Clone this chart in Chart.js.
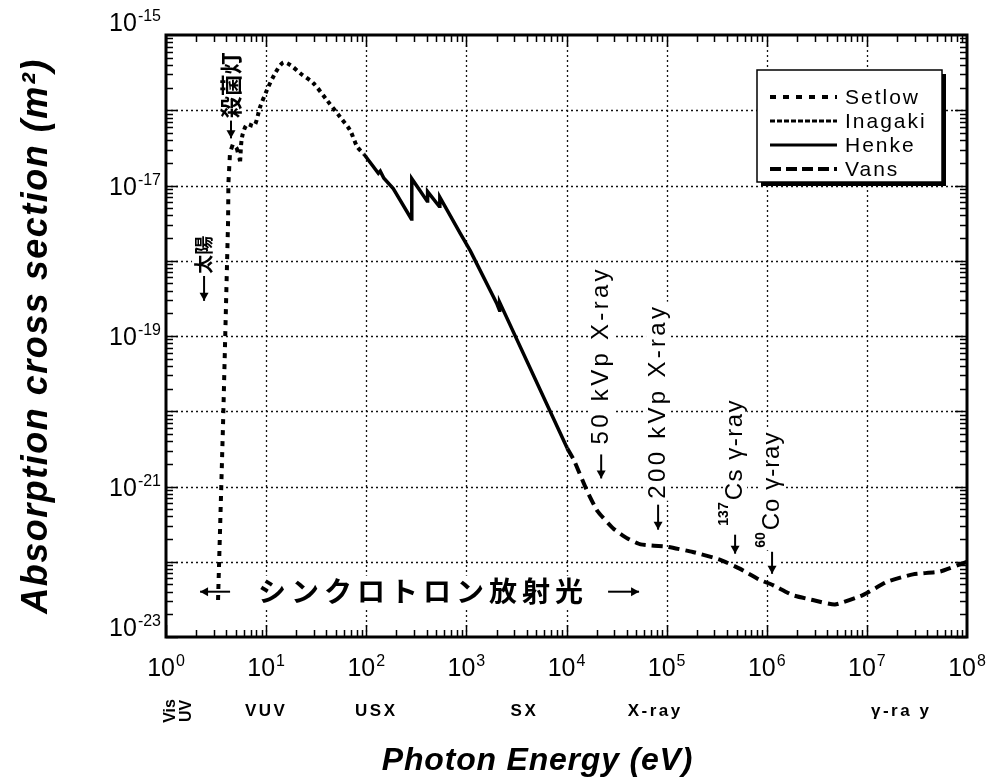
<!DOCTYPE html>
<html>
<head>
<meta charset="utf-8">
<script src="https://cdn.jsdelivr.net/npm/chart.js@4.4.1/dist/chart.umd.min.js"></script>
<style>
  html, body { margin: 0; padding: 0; background: #fff; }
  canvas { display: block; }
</style>
</head>
<body>
<canvas id="absChart" width="997" height="777"></canvas>
<script>
// photon energy (eV) vs absorption cross section (m^2)
const setlowEnergy = [3.31, 3.72, 4.17, 4.2, 4.36, 4.68, 5.1, 5.5];
const setlowSigma  = [3.1e-23, 7.4e-21, 3.4e-18, 1.07e-17, 2.75e-17, 3.6e-17, 3.1e-17, 2.1e-17];

const inagakiEnergy = [5.5, 5.75, 6.46, 7.6, 8.7, 10.2, 12.3, 14.8, 17.4, 21.9, 29.5, 40.7, 55, 69, 81, 95];
const inagakiSigma  = [2.1e-17, 4.4e-17, 6.5e-17, 6.2e-17, 1.1e-16, 1.86e-16, 3.1e-16, 4.3e-16, 4.0e-16,
                       3.1e-16, 2.3e-16, 1.35e-16, 8.1e-17, 5.4e-17, 3.3e-17, 2.6e-17];

const henkeEnergy = [95, 132, 138, 150, 186, 282, 285, 345, 405, 410, 535, 543, 871, 1096, 2000, 2140, 2150, 10200];
const henkeSigma  = [2.6e-17, 1.45e-17, 1.55e-17, 1.25e-17, 9.1e-18, 3.6e-18, 1.23e-17, 8.5e-18, 6.2e-18, 8.3e-18,
                     5.3e-18, 7.0e-18, 2.3e-18, 1.35e-18, 2.75e-19, 2.2e-19, 2.8e-19, 3.2e-21];

const vansEnergy = [10200, 11750, 16200, 20400, 29500, 40700, 55000, 102000, 182000, 339000, 537000, 851000,
                    1.15e6, 1.82e6, 2.88e6, 4.79e6, 9.1e6, 1.58e7, 2.88e7, 5.37e7, 1e8];
const vansSigma  = [3.2e-21, 2.3e-21, 8.5e-22, 4.7e-22, 2.75e-22, 2.04e-22, 1.7e-22, 1.58e-22, 1.35e-22, 1.07e-22,
                    8.1e-23, 5.75e-23, 4.9e-23, 3.6e-23, 3.1e-23, 2.7e-23, 3.6e-23, 5.4e-23, 6.8e-23, 7.4e-23, 1.0e-22];

const xTickExp = [0, 1, 2, 3, 4, 5, 6, 7, 8];
const yGridExp = [-23, -22, -21, -20, -19, -18, -17, -16, -15];
const yLabelExp = [-15, -17, -19, -21, -23];

const SANS = '"Liberation Sans", Arial, sans-serif';
const CJK = '"Noto Sans CJK JP", sans-serif';

const pts = (xs, ys) => xs.map((x, i) => ({ x: x, y: ys[i] }));

const series = [
  { label: 'Setlow',  data: pts(setlowEnergy, setlowSigma),   dash: [5, 6],  width: 4,   tension: 0 },
  { label: 'Inagaki', data: pts(inagakiEnergy, inagakiSigma), dash: [4, 4],  width: 4,   tension: 0.3 },
  { label: 'Henke',   data: pts(henkeEnergy, henkeSigma),     dash: [],      width: 3.5, tension: 0 },
  { label: 'Vans',    data: pts(vansEnergy, vansSigma),       dash: [11, 6], width: 4,   tension: 0.15 }
];

// arrow along +x of the current frame, tip at x0 (dir 'start') or at x0+len (dir 'end')
function arrow(ctx, x0, len, dir) {
  const tip = dir === 'end' ? x0 + len : x0;
  const s = dir === 'end' ? -1 : 1;
  ctx.lineWidth = 2;
  ctx.setLineDash([]);
  ctx.beginPath();
  ctx.moveTo(x0, 0); ctx.lineTo(x0 + len, 0); ctx.stroke();
  ctx.beginPath();
  ctx.moveTo(tip, 0); ctx.lineTo(tip + s * 8, -4.5); ctx.lineTo(tip + s * 8, 4.5); ctx.closePath(); ctx.fill();
}

function drawParts(ctx, x, y, angle, parts) {
  ctx.save();
  ctx.translate(x, y);
  ctx.rotate(angle);
  ctx.textAlign = 'left';
  ctx.textBaseline = 'middle';
  ctx.fillStyle = '#000';
  ctx.strokeStyle = '#000';
  let pos = 0;
  parts.forEach(p => {
    pos += p.gap || 0;
    if (p.arrow) {
      ctx.fillStyle = '#fff';
      ctx.fillRect(pos - 1, -6, p.arrow + 2, 12);
      ctx.fillStyle = '#000';
      arrow(ctx, pos, p.arrow, p.dir);
      pos += p.arrow;
      return;
    }
    ctx.font = p.font;
    ctx.letterSpacing = p.spacing || '0px';
    const w = ctx.measureText(p.text).width;
    const h = p.h || 20;
    ctx.fillStyle = '#fff';
    ctx.fillRect(pos - 2, (p.dy || 0) - h / 2 - 2, w + 4, h + 4);
    ctx.fillStyle = '#000';
    ctx.fillText(p.text, pos, p.dy || 0);
    ctx.letterSpacing = '0px';
    pos += w;
  });
  ctx.restore();
}

// text labels anchored on data coordinates (arrow tip)
const annotations = [
  { e: 2.40, s: 2.93e-19, parts: [{ arrow: 25 }, { gap: 2, text: '太陽', font: 'bold 19px ' + CJK }] },
  { e: 4.46, s: 4.23e-17, parts: [{ arrow: 18 }, { gap: 2, text: '殺菌灯', font: 'bold 22px ' + CJK, h: 22 }] },
  { e: 2.22e4, s: 1.28e-21, parts: [{ arrow: 24 }, { gap: 10, text: '50 kVp X-ray', font: '24px ' + SANS, spacing: '3.3px' }] },
  { e: 8.22e4, s: 2.67e-22, parts: [{ arrow: 25 }, { gap: 6, text: '200 kVp X-ray', font: '24px ' + SANS, spacing: '3.3px' }] },
  { e: 4.83e5, s: 1.28e-22, parts: [{ arrow: 19 }, { gap: 9, text: '137', font: 'bold 14px ' + SANS, dy: -11, h: 12 },
                                    { gap: 2, text: 'Cs γ-ray', font: '24px ' + SANS, spacing: '1.5px' }] },
  { e: 1.13e6, s: 6.92e-23, parts: [{ arrow: 22 }, { gap: 4, text: '60', font: 'bold 14px ' + SANS, dy: -11, h: 12 },
                                    { gap: 2, text: 'Co γ-ray', font: '24px ' + SANS, spacing: '1px' }] }
];

const regionLabels = [
  { e: 10, text: 'VUV' }, { e: 126, text: 'USX' }, { e: 3800, text: 'SX' },
  { e: 7.7e4, text: 'X-ray' }, { e: 2.2e7, text: 'γ-ra y' }
];

function drawPow(ctx, exp, x, y, align) {
  ctx.textAlign = 'left';
  ctx.textBaseline = 'alphabetic';
  ctx.font = '25px ' + SANS;
  const wb = ctx.measureText('10').width;
  ctx.font = '16px ' + SANS;
  const ws = ctx.measureText(String(exp)).width;
  const x0 = align === 'center' ? x - (wb + ws + 1) / 2 : x - wb - ws - 1;
  ctx.font = '25px ' + SANS;
  ctx.fillText('10', x0, y);
  ctx.font = '16px ' + SANS;
  ctx.fillText(String(exp), x0 + wb + 1, y - 10);
}

const framePlugin = {
  id: 'frame',
  beforeDatasetsDraw(chart) {
    const { ctx, chartArea: a, scales: { x, y } } = chart;
    ctx.save();
    // dotted grid at each decade
    ctx.strokeStyle = '#111';
    ctx.lineWidth = 1.3;
    ctx.setLineDash([2, 3]);
    xTickExp.forEach(e => {
      const px = Math.round(x.getPixelForValue(Math.pow(10, e))) + 0.5;
      if (px <= a.left + 2 || px >= a.right - 2) return;
      ctx.beginPath(); ctx.moveTo(px, a.top); ctx.lineTo(px, a.bottom); ctx.stroke();
    });
    yGridExp.forEach(e => {
      const py = Math.round(y.getPixelForValue(Math.pow(10, e))) + 0.5;
      if (py <= a.top + 2 || py >= a.bottom - 2) return;
      ctx.beginPath(); ctx.moveTo(a.left, py); ctx.lineTo(a.right, py); ctx.stroke();
    });
    ctx.setLineDash([]);

    // annotations
    annotations.forEach(an => {
      drawParts(ctx, x.getPixelForValue(an.e), y.getPixelForValue(an.s), -Math.PI / 2, an.parts);
    });
    // synchrotron radiation range
    drawParts(ctx, x.getPixelForValue(2.19), y.getPixelForValue(4.0e-23), 0, [
      { arrow: 30, dir: 'start' },
      { gap: 28, text: 'シンクロトロン放射光', font: 'bold 28px ' + CJK, spacing: '5px', h: 28 },
      { gap: 20, arrow: 31, dir: 'end' }
    ]);
    ctx.restore();
  },
  afterDatasetsDraw(chart) {
    const { ctx, chartArea: a, scales: { x, y } } = chart;
    ctx.save();
    ctx.strokeStyle = '#000';
    ctx.fillStyle = '#000';
    ctx.setLineDash([]);

    // inward ticks on all four sides
    ctx.lineWidth = 1.5;
    for (let e = 0; e < 8; e++) {
      for (let m = 1; m <= 9; m++) {
        const px = Math.round(x.getPixelForValue(m * Math.pow(10, e))) + 0.5;
        const len = m === 1 ? 12 : 7;
        ctx.beginPath();
        ctx.moveTo(px, a.bottom); ctx.lineTo(px, a.bottom - len);
        ctx.moveTo(px, a.top); ctx.lineTo(px, a.top + len);
        ctx.stroke();
      }
    }
    for (let e = -23; e < -15; e++) {
      for (let m = 1; m <= 9; m++) {
        const py = Math.round(y.getPixelForValue(m * Math.pow(10, e))) + 0.5;
        const len = m === 1 ? 12 : 7;
        ctx.beginPath();
        ctx.moveTo(a.left, py); ctx.lineTo(a.left + len, py);
        ctx.moveTo(a.right, py); ctx.lineTo(a.right - len, py);
        ctx.stroke();
      }
    }
    // frame
    ctx.lineWidth = 3;
    ctx.strokeRect(a.left, a.top, a.right - a.left, a.bottom - a.top);

    // tick labels
    xTickExp.forEach(e => drawPow(ctx, e, x.getPixelForValue(Math.pow(10, e)), a.bottom + 39, 'center'));
    yLabelExp.forEach(e => {
      const py = y.getPixelForValue(Math.pow(10, e));
      let base = py + 9;
      if (e === yGridExp[yGridExp.length - 1]) base = py - 4;
      if (e === yGridExp[0]) base = py - 1;
      drawPow(ctx, e, a.left - 5, base, 'right');
    });

    // energy region labels
    ctx.textAlign = 'center';
    ctx.textBaseline = 'middle';
    ctx.font = 'bold 17px ' + SANS;
    ctx.letterSpacing = '2.5px';
    regionLabels.forEach(r => ctx.fillText(r.text, x.getPixelForValue(r.e), a.bottom + 74));
    ctx.font = 'bold 16px ' + SANS;
    ctx.letterSpacing = '0px';
    [['Vis', 1.1], ['UV', 1.6]].forEach(([t, e]) => {
      ctx.save();
      ctx.translate(x.getPixelForValue(e), a.bottom + 74);
      ctx.rotate(-Math.PI / 2);
      ctx.fillText(t, 0, 0);
      ctx.restore();
    });

    // axis titles
    ctx.font = 'italic bold 32px ' + SANS;
    ctx.letterSpacing = '0.8px';
    ctx.textAlign = 'center';
    ctx.textBaseline = 'alphabetic';
    ctx.fillText('Photon Energy (eV)', (a.left + a.right) / 2 - 29, a.bottom + 133);
    ctx.save();
    ctx.translate(47, (a.top + a.bottom) / 2);
    ctx.rotate(-Math.PI / 2);
    ctx.font = 'italic bold 36px ' + SANS;
    ctx.letterSpacing = '1.5px';
    ctx.fillText('Absorption cross section (m²)', 0, 0);
    ctx.restore();
    ctx.letterSpacing = '0px';

    // legend with drop shadow
    const lx = a.right - 210, ly = a.top + 35, lw = 185, lh = 112;
    ctx.fillRect(lx + 4, ly + 4, lw, lh);
    ctx.fillStyle = '#fff';
    ctx.fillRect(lx, ly, lw, lh);
    ctx.lineWidth = 1.5;
    ctx.strokeRect(lx, ly, lw, lh);
    ctx.fillStyle = '#000';
    ctx.font = '21px ' + SANS;
    ctx.letterSpacing = '2px';
    ctx.textAlign = 'left';
    ctx.textBaseline = 'middle';
    const legendDash = [[6, 7], [5, 2], [], [11, 5]];
    const legendWidth = [4, 3, 3, 4];
    series.forEach((s, i) => {
      const ry = ly + 27 + i * 24;
      ctx.setLineDash(legendDash[i]);
      ctx.lineWidth = legendWidth[i];
      ctx.beginPath(); ctx.moveTo(lx + 13, ry); ctx.lineTo(lx + 80, ry); ctx.stroke();
      ctx.setLineDash([]);
      ctx.fillText(s.label, lx + 88, ry + 1);
    });
    ctx.letterSpacing = '0px';
    ctx.restore();
  }
};

new Chart(document.getElementById('absChart').getContext('2d'), {
  type: 'scatter',
  data: {
    datasets: series.map(s => ({
      label: s.label,
      data: s.data,
      showLine: true,
      borderColor: '#000',
      backgroundColor: '#000',
      borderWidth: s.width,
      borderDash: s.dash,
      tension: s.tension,
      pointRadius: 0,
      fill: false
    }))
  },
  options: {
    responsive: false,
    animation: false,
    layout: { padding: { left: 166, top: 35, right: 30, bottom: 140 } },
    plugins: { legend: { display: false }, tooltip: { enabled: false } },
    scales: {
      x: { type: 'logarithmic', display: false, min: 1, max: 1e8 },
      y: { type: 'logarithmic', display: false, min: 1e-23, max: 1e-15 }
    }
  },
  plugins: [framePlugin]
});
</script>
</body>
</html>
